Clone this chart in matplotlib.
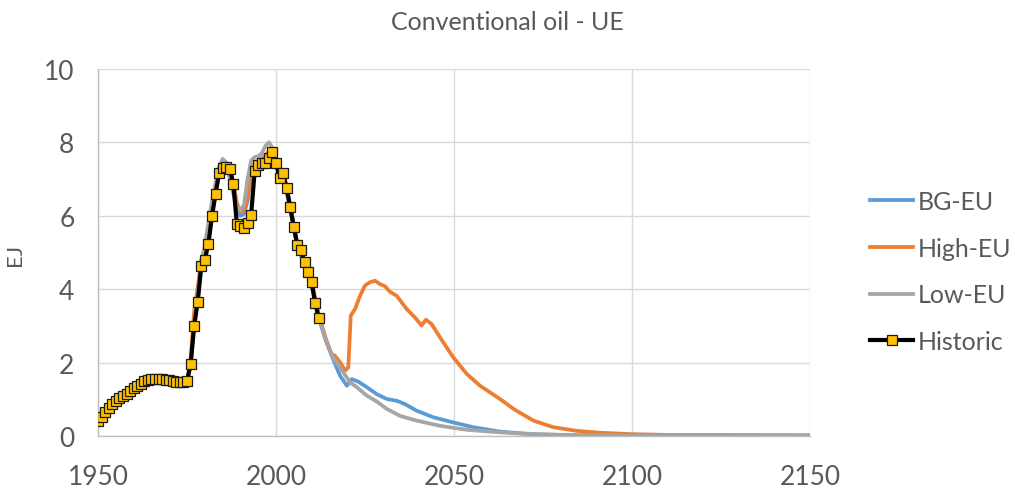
import matplotlib
matplotlib.use("Agg")
import matplotlib.pyplot as plt

# ---------------- data ----------------
hist_years = list(range(1950, 2013))
hist_values = [0.42, 0.53, 0.65, 0.76, 0.86, 0.96, 1.03, 1.08, 1.14, 1.22,
               1.30, 1.37, 1.43, 1.50, 1.53, 1.54, 1.54, 1.54, 1.54, 1.53,
               1.52, 1.50, 1.47, 1.46, 1.48, 1.51, 1.95, 3.00, 3.66, 4.64,
               4.80, 5.24, 5.99, 6.59, 7.16, 7.29, 7.32, 7.28, 6.87, 5.78,
               5.73, 5.68, 5.80, 6.02, 7.21, 7.39, 7.43, 7.43, 7.57, 7.75,
               7.44, 7.02, 7.16, 6.75, 6.23, 5.69, 5.19, 5.08, 4.73, 4.46,
               4.19, 3.62, 3.22]

bg_years = [1950, 1955, 1960, 1964, 1970, 1973, 1975, 1976, 1977, 1978, 1979,
            1980, 1981, 1982, 1983, 1984, 1985, 1986, 1987, 1988, 1989, 1990,
            1991, 1992, 1993, 1994, 1995, 1996, 1997, 1998, 1999, 2000, 2001,
            2002, 2003, 2004, 2005, 2006, 2008, 2010, 2012, 2014, 2016, 2018,
            2019.9, 2021.3, 2023.1, 2025.5, 2028.3, 2031.1, 2033.9, 2036.2,
            2039.5, 2044.2, 2049.8, 2055.4, 2062.9, 2072, 2085, 2100, 2150]
bg_values = [0.40, 0.94, 1.28, 1.51, 1.50, 1.42, 1.42, 1.95, 3.05, 3.75, 4.60,
             4.95, 5.40, 6.05, 6.65, 7.10, 7.30, 7.35, 7.25, 6.85, 6.30, 6.00,
             6.05, 6.40, 7.10, 7.35, 7.40, 7.42, 7.45, 7.50, 7.55, 7.40, 7.15,
             6.95, 6.70, 6.25, 5.70, 5.20, 4.70, 4.15, 3.25, 2.60, 2.10, 1.64,
             1.37, 1.55, 1.48, 1.33, 1.14, 1.01, 0.96, 0.87,
             0.69, 0.51, 0.37, 0.24, 0.12, 0.05, 0.02, 0.01, 0.01]

high_years = [1950, 1955, 1960, 1964, 1970, 1973, 1975, 1976, 1977, 1978, 1979,
              1980, 1981, 1982, 1983, 1984, 1985, 1986, 1987, 1988, 1989, 1990,
              1991, 1992, 1993, 1994, 1995, 1996, 1997, 1998, 1999, 2000, 2001,
              2002, 2003, 2004, 2005, 2006, 2008, 2010, 2012, 2014, 2015.6,
              2016.5, 2018, 2019.4, 2020.3, 2021, 2022.2, 2023.6, 2025, 2026.4,
              2027.8, 2029.2, 2030.6, 2032, 2033.9, 2036.7, 2039, 2040.9,
              2042.1, 2043.7, 2047, 2049.8, 2053.6, 2057.3, 2062.9, 2066.7,
              2072.3, 2077.9, 2084.5, 2091, 2100, 2110, 2150]
high_values = [0.40, 0.94, 1.28, 1.51, 1.50, 1.42, 1.42, 2.10, 3.40, 4.05, 4.80,
               5.10, 5.50, 6.10, 6.70, 7.20, 7.40, 7.45, 7.30, 6.90, 6.35, 6.10,
               6.15, 6.50, 7.20, 7.45, 7.50, 7.55, 7.65, 7.75, 7.80, 7.50, 7.20,
               6.95, 6.70, 6.25, 5.75, 5.25, 4.75, 4.20, 3.30, 2.65, 2.23,
               2.19, 2.01, 1.78, 1.87, 3.28, 3.46, 3.82, 4.10, 4.19,
               4.23, 4.14, 4.08, 3.93, 3.82, 3.46, 3.23, 3.01,
               3.17, 3.05, 2.55, 2.14, 1.69, 1.37, 1.01, 0.74,
               0.42, 0.24, 0.14, 0.09, 0.05, 0.03, 0.02]

low_years = [1950, 1955, 1960, 1964, 1970, 1973, 1975, 1976, 1977, 1978, 1979,
             1980, 1981, 1982, 1983, 1984, 1985, 1986, 1987, 1988, 1989, 1990,
             1991, 1992, 1993, 1994, 1995, 1996, 1997, 1998, 1999, 2000, 2001,
             2002, 2003, 2004, 2005, 2006, 2008, 2010, 2012, 2014, 2016, 2018,
             2020.8, 2022.7, 2025.5, 2028.3, 2031.1, 2034.8, 2039.5, 2046,
             2053.6, 2063, 2072, 2085, 2100, 2150]
low_values = [0.44, 0.98, 1.32, 1.55, 1.55, 1.47, 1.47, 2.00, 3.10, 3.90, 4.70,
              5.20, 5.80, 6.40, 6.90, 7.35, 7.55, 7.45, 7.00, 6.60, 6.25, 6.15,
              6.30, 7.00, 7.50, 7.60, 7.62, 7.70, 7.90, 8.00, 7.85, 7.50, 7.20,
              6.95, 6.60, 6.15, 5.65, 5.15, 4.65, 4.10, 3.20, 2.60, 2.14, 1.87,
              1.46, 1.33, 1.10, 0.94, 0.74, 0.55, 0.42, 0.28,
              0.17, 0.10, 0.05, 0.02, 0.01, 0.01]

x_ticks = [1950, 2000, 2050, 2100, 2150]
y_ticks = [0, 2, 4, 6, 8, 10]
title = "Conventional oil - UE"
ylabel = "EJ"

# ---------------- style ----------------
plt.rcParams['font.family'] = ['Lato', 'DejaVu Sans']
txt = '#595959'

fig = plt.figure(figsize=(10.15, 4.89), dpi=100)
ax = fig.add_axes([0.0966, 0.1063, 0.798 - 0.0966, 0.857 - 0.1063])

ax.plot(bg_years, bg_values, color='#5B9BD5', lw=2.7, label='BG-EU', zorder=3)
ax.plot(high_years, high_values, color='#ED7D31', lw=2.7, label='High-EU', zorder=3)
ax.plot(low_years, low_values, color='#A5A5A5', lw=2.7, label='Low-EU', zorder=3)
ax.plot(hist_years, hist_values, color='black', lw=3, marker='s', ms=7,
        mfc='#FFC000', mec='#1a1a1a', mew=0.9, label='Historic', zorder=4)

ax.set_xlim(1950, 2150)
ax.set_ylim(0, 10)
ax.set_xticks(x_ticks)
ax.set_yticks(y_ticks)
ax.grid(True, color='#D9D9D9', lw=1)
ax.set_axisbelow(True)
for s in ['top', 'right']:
    ax.spines[s].set_visible(False)
for s in ['left', 'bottom']:
    ax.spines[s].set_color('#BFBFBF')
    ax.spines[s].set_linewidth(1)
ax.tick_params(length=0, labelsize=19, colors=txt)
ax.tick_params(axis='x', pad=20)
ax.tick_params(axis='y', pad=17)
fig.text(15 / 1015, 1 - 255 / 489, ylabel, rotation=90, ha='center', va='center',
         fontsize=16, color=txt)
fig.text(0.5, 0.953, title, ha='center', va='center', fontsize=18, color=txt)

leg = ax.legend(loc='center left', bbox_to_anchor=(1.085, 0.448), frameon=False,
                fontsize=18, handlelength=1.7, labelspacing=0.95,
                handletextpad=0.2, borderpad=0, borderaxespad=0)
for t in leg.get_texts():
    t.set_color(txt)

fig.savefig('out.png', dpi=100)
